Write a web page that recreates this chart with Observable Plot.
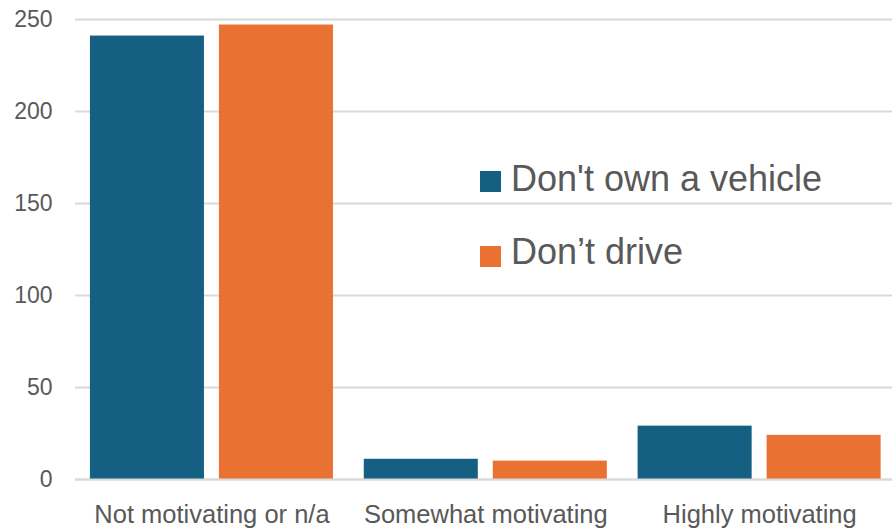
<!DOCTYPE html>
<html>
<head>
<meta charset="utf-8">
<script src="https://cdn.jsdelivr.net/npm/d3@7"></script>
<script src="https://cdn.jsdelivr.net/npm/@observablehq/plot@0.6"></script>
<style>
  html, body { margin: 0; padding: 0; background: #fff; overflow: hidden; }
  #wrap { position: relative; width: 892px; height: 531px; font-family: "Liberation Sans", Arial, sans-serif; }
  #legend { position: absolute; left: 480px; top: 0; width: 410px; color: #595959; font-size: 36px; line-height: 36px; }
  .sw { position: absolute; left: 0; width: 21px; height: 21px; }
  .lbl { position: absolute; left: 31px; top: 0; white-space: nowrap; }
</style>
</head>
<body>
<div id="wrap"></div>
<script>
const categories = ["Not motivating or n/a", "Somewhat motivating", "Highly motivating"];
const seriesNames = ["Don't own a vehicle", "Don’t drive"];
const dontOwnVehicle = [241, 11, 29];
const dontDrive = [247, 10, 24];
const yTicks = [0, 50, 100, 150, 200, 250];
const colors = ["#156082", "#E97132"];

const ownData = categories.map((c, i) => ({category: c, value: dontOwnVehicle[i]}));
const driveData = categories.map((c, i) => ({category: c, value: dontDrive[i]}));

const bandwidth = 243;
const barW = 114;

const chart = Plot.plot({
  width: 892,
  height: 531,
  marginLeft: 75,
  marginRight: 0,
  marginTop: 19,
  marginBottom: 52,
  style: {fontFamily: "'Liberation Sans', Arial, sans-serif", background: "#fff"},
  x: {domain: categories, paddingInner: 0.1125, paddingOuter: 0.048, align: 0.568, round: false},
  y: {domain: [0, 250]},
  marks: [
    Plot.ruleY(yTicks, {stroke: "#d9d9d9", strokeWidth: 2}),
    Plot.barY(ownData, {x: "category", y: "value", fill: colors[0], insetRight: bandwidth - barW, insetLeft: 0}),
    Plot.barY(driveData, {x: "category", y: "value", fill: colors[1], insetLeft: bandwidth - barW, insetRight: 0}),
    Plot.ruleY([0], {stroke: "#d9d9d9", strokeWidth: 2}),
    Plot.axisY({ticks: yTicks, tickSize: 0, tickPadding: 23, fontSize: 23, color: "#595959", label: null}),
    Plot.axisX({tickSize: 0, tickPadding: 25, fontSize: 25.5, color: "#595959", label: null})
  ]
});

const wrap = document.getElementById("wrap");
wrap.appendChild(chart);

const legend = document.createElement("div");
legend.id = "legend";
const tops = [161, 234];
const swTops = [171, 246];
seriesNames.forEach((name, i) => {
  const sw = document.createElement("div");
  sw.className = "sw";
  sw.style.top = swTops[i] + "px";
  sw.style.background = colors[i];
  legend.appendChild(sw);
  const lbl = document.createElement("div");
  lbl.className = "lbl";
  lbl.style.top = tops[i] + "px";
  lbl.textContent = name;
  legend.appendChild(lbl);
});
wrap.appendChild(legend);
</script>
</body>
</html>
